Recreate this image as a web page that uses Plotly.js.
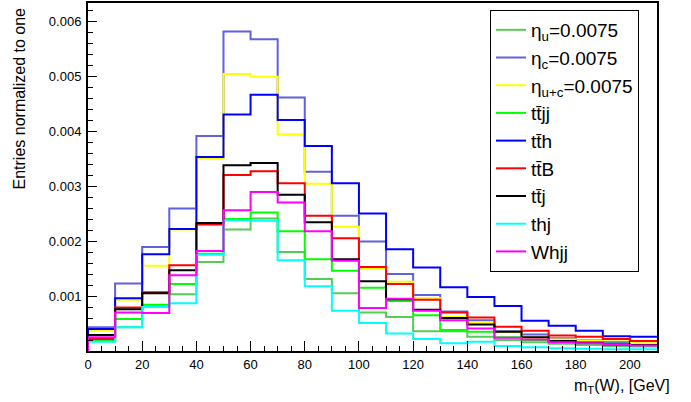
<!DOCTYPE html>
<html>
<head>
<meta charset="utf-8">
<script src="https://cdn.plot.ly/plotly-3.0.1.min.js"></script>
<style>html,body{margin:0;padding:0;background:#fff;}#chart{width:691px;height:402px;}</style>
</head>
<body>
<div id="chart"></div>
<script>
// bin edges of m_T(W) [GeV]
const binEdges = [0,10,20,30,40,50,60,70,80,90,100,110,120,130,140,150,160,170,180,190,200,210];

const seriesNames = ["η<sub>u</sub>=0.0075","η<sub>c</sub>=0.0075","η<sub>u+c</sub>=0.0075","tt\u0304jj","tt\u0304h","tt\u0304B","tt\u0304j","thj","Whjj"];

const etaU  = [0.00018,0.00043,0.00081,0.00103,0.00162,0.00221,0.00241,0.00180,0.00131,0.00105,0.00070,0.00062,0.00036,0.00036,0.00026,0.00020,0.00016,0.00013,0.00011,0.00009,0.00008];
const etaC  = [0.00043,0.00123,0.00189,0.00259,0.00391,0.00581,0.00567,0.00461,0.00326,0.00246,0.00199,0.00140,0.00102,0.00072,0.00056,0.00036,0.00030,0.00023,0.00019,0.00016,0.00012];
const etaUC = [0.00037,0.00093,0.00155,0.00221,0.00350,0.00504,0.00499,0.00394,0.00304,0.00226,0.00149,0.00126,0.00096,0.00062,0.00052,0.00034,0.00024,0.00021,0.00018,0.00021,0.00014];
const ttjj  = [0.00019,0.00058,0.00084,0.00122,0.00177,0.00240,0.00252,0.00218,0.00167,0.00146,0.00115,0.00091,0.00065,0.00038,0.00035,0.00025,0.00020,0.00018,0.00016,0.00013,0.00011];
const tth   = [0.00040,0.00096,0.00176,0.00222,0.00353,0.00430,0.00466,0.00420,0.00373,0.00305,0.00250,0.00185,0.00152,0.00116,0.00098,0.00082,0.00055,0.00046,0.00037,0.00027,0.00026];
const ttB   = [0.00022,0.00079,0.00107,0.00156,0.00230,0.00320,0.00327,0.00305,0.00246,0.00205,0.00153,0.00122,0.00093,0.00070,0.00061,0.00044,0.00037,0.00028,0.00026,0.00022,0.00018];
const ttj   = [0.00029,0.00076,0.00105,0.00147,0.00233,0.00338,0.00342,0.00284,0.00234,0.00167,0.00127,0.00094,0.00075,0.00060,0.00048,0.00035,0.00025,0.00018,0.00015,0.00012,0.00011];
const thj   = [0.00017,0.00043,0.00080,0.00087,0.00175,0.00238,0.00237,0.00165,0.00118,0.00073,0.00051,0.00032,0.00022,0.00014,0.00017,0.00009,0.00007,0.00005,0.00004,0.00003,0.00003];
const whjj  = [0.00025,0.00070,0.00069,0.00138,0.00182,0.00256,0.00289,0.00270,0.00218,0.00164,0.00078,0.00095,0.00073,0.00056,0.00041,0.00024,0.00021,0.00016,0.00014,0.00012,0.00010];

const seriesValues = [etaU, etaC, etaUC, ttjj, tth, ttB, ttj, thj, whjj];
const seriesColors = ["#55cc55","#6060e0","#ffff00","#00ff00","#0000ff","#ff0000","#000000","#00ffff","#ff00ff"];

const yTickVals = [0.001,0.002,0.003,0.004,0.005,0.006];
const yTickText = ["0.001","0.002","0.003","0.004","0.005","0.006"];

function stepXY(vals){
  const x = [binEdges[0]];
  const y = [0];
  for (let i = 0; i < vals.length; i++){ x.push(binEdges[i]); y.push(vals[i]); }
  x.push(binEdges[binEdges.length-1]); y.push(vals[vals.length-1]);
  return {x, y};
}

const traces = seriesValues.map((vals, i) => {
  const s = stepXY(vals);
  return {
    type: 'scatter', mode: 'lines', x: s.x, y: s.y,
    line: {shape: 'hv', color: seriesColors[i], width: 2},
    name: seriesNames[i], hoverinfo: 'skip'
  };
});

const font = "'Liberation Sans', Arial, sans-serif";
const layout = {
  width: 691, height: 402,
  margin: {l: 88, r: 34, t: 3, b: 51},
  paper_bgcolor: '#fff', plot_bgcolor: '#fff',
  font: {family: font, size: 13, color: '#000'},
  showlegend: true,
  legend: {
    x: 0.7065, y: 0.98, xanchor: 'left', yanchor: 'top',
    bgcolor: '#fff', bordercolor: '#000', borderwidth: 1,
    font: {family: font, size: 19, color: '#000'},
    tracegroupgap: 0, itemwidth: 30
  },
  xaxis: {
    range: [0, 210], showgrid: false, zeroline: false,
    showline: true, linecolor: '#000', linewidth: 2, mirror: true,
    ticks: 'inside', ticklen: 10, tickwidth: 1, tickcolor: '#000', dtick: 20, tick0: 0,
    minor: {ticks: 'inside', ticklen: 5, dtick: 5, tickcolor: '#000', tickwidth: 1},
    tickfont: {size: 13}, fixedrange: true
  },
  yaxis: {
    range: [0, 0.00633], showgrid: false, zeroline: false,
    showline: true, linecolor: '#000', linewidth: 2, mirror: true,
    ticks: 'inside', ticklen: 9, tickwidth: 1, tickcolor: '#000',
    tickmode: 'array', tickvals: yTickVals, ticktext: yTickText,
    minor: {ticks: 'inside', ticklen: 5, dtick: 0.0002, tick0: 0, tickcolor: '#000', tickwidth: 1},
    tickfont: {size: 13}, ticklabelstandoff: 2, fixedrange: true
  },
  annotations: [
    {xref: 'paper', yref: 'paper', x: 1.0264, y: -0.1034, xanchor: 'right', yanchor: 'middle',
     text: 'm<sub>T</sub>(W), [GeV]', showarrow: false, font: {size: 16}},
    {xref: 'paper', yref: 'paper', x: -0.1204, y: 0.9943, xanchor: 'center', yanchor: 'top',
     text: 'Entries normalized to one', textangle: -90, showarrow: false, font: {size: 16}}
  ]
};

Plotly.newPlot('chart', traces, layout, {staticPlot: true, displayModeBar: false});
</script>
</body>
</html>
